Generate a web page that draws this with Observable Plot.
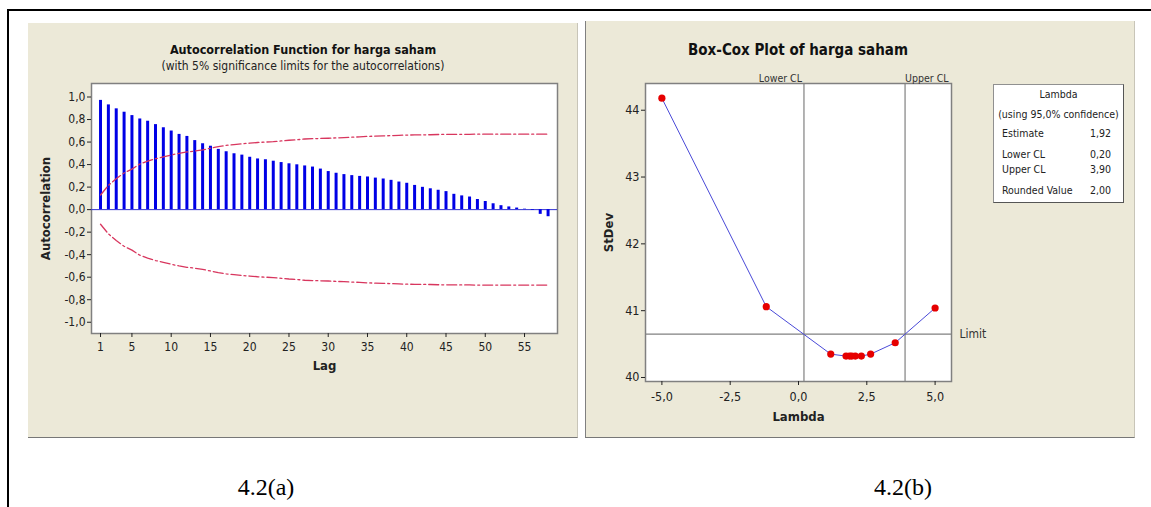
<!DOCTYPE html>
<html>
<head>
<meta charset="utf-8">
<script src="https://cdn.jsdelivr.net/npm/d3@7"></script>
<script src="https://cdn.jsdelivr.net/npm/@observablehq/plot@0.6"></script>
<style>
  html, body { margin: 0; padding: 0; background: #fff; }
  #root { position: relative; width: 1151px; height: 507px; overflow: hidden; background: #fff;
          font-family: "DejaVu Sans Condensed", "Liberation Sans", sans-serif; }
  .abs { position: absolute; white-space: nowrap; }
  .panel { position: absolute; background: #ECE9D8; box-sizing: border-box; }
  .plot { position: absolute; }
  .plot svg { overflow: visible; }
  .plot g[aria-label="x-axis label"] text, .plot g[aria-label="y-axis label"] text { font-weight: bold; font-size: 13px; }
</style>
</head>
<body>
<div id="root"></div>
<script>
// ---------------- data ----------------
const lags = [1,2,3,4,5,6,7,8,9,10,11,12,13,14,15,16,17,18,19,20,21,22,23,24,25,26,27,28,29,30,
  31,32,33,34,35,36,37,38,39,40,41,42,43,44,45,46,47,48,49,50,51,52,53,54,55,56,57,58];
const acfValues = [0.97,0.93,0.895,0.865,0.835,0.805,0.785,0.755,0.727,0.698,
  0.668,0.65,0.613,0.585,0.563,0.535,0.514,0.496,0.484,0.465,
  0.45,0.443,0.43,0.418,0.407,0.398,0.388,0.378,0.36,0.338,
  0.323,0.311,0.302,0.295,0.29,0.28,0.272,0.26,0.245,0.234,
  0.215,0.198,0.185,0.172,0.16,0.136,0.122,0.112,0.09,0.072,
  0.052,0.035,0.024,0.014,0.004,-0.006,-0.042,-0.063];
const upperLimit = [0.13,0.215,0.275,0.325,0.36,0.405,0.43,0.452,0.468,0.485,
  0.5,0.512,0.52,0.53,0.545,0.56,0.57,0.578,0.585,0.59,
  0.596,0.6,0.603,0.61,0.616,0.62,0.627,0.63,0.632,0.634,
  0.637,0.64,0.643,0.646,0.65,0.653,0.655,0.657,0.66,0.662,
  0.663,0.664,0.665,0.667,0.668,0.668,0.669,0.669,0.67,0.67,
  0.67,0.67,0.67,0.67,0.67,0.67,0.67,0.67];
const lowerLimit = upperLimit.map(v => -v);
const acfXTicks = [1,5,10,15,20,25,30,35,40,45,50,55];
const acfYTicks = [-1,-0.8,-0.6,-0.4,-0.2,0,0.2,0.4,0.6,0.8,1];

const lambdas = [-5,-1.18,1.18,1.74,1.87,1.95,2.08,2.30,2.64,3.54,5];
const stdevs  = [44.18,41.06,40.35,40.32,40.32,40.32,40.32,40.32,40.35,40.52,41.04];
const clLines = [{lambda: 0.20, label: "Lower CL", anchor: "end"}, {lambda: 3.90, label: "Upper CL", anchor: "start"}];
const limitValue = 40.65;
const bcXTicks = [-5,-2.5,0,2.5,5];
const bcYTicks = [40,41,42,43,44];
const legendRows = [["Estimate","1,92"],["Lower CL","0,20"],["Upper CL","3,90"],["Rounded Value","2,00"]];

// ---------------- helpers ----------------
const root = document.getElementById("root");
function el(tag, cls, css, text) {
  const e = document.createElement(tag);
  if (cls) e.className = cls;
  Object.assign(e.style, css);
  if (text != null) e.textContent = text;
  root.appendChild(e);
  return e;
}
const comma = f => d => d3.format(f)(d).replace("\u2212", "-").replace(".", ",");
const FONT = '"DejaVu Sans Condensed", "Liberation Sans", sans-serif';

// outer frame lines
el("div", "abs", {left: "7px", top: "9px", width: "1160px", height: "2px", background: "#000"});
el("div", "abs", {left: "7px", top: "9px", width: "2px", height: "520px", background: "#000"});

// ---------------- panel A: ACF ----------------
el("div", "panel", {left: "28px", top: "23px", width: "550px", height: "415px",
  borderBottom: "1px solid #777", borderRight: "1px solid #c8c5b8"});
el("div", "abs", {left: "28px", width: "550px", top: "42px", textAlign: "center",
  fontFamily: FONT, fontWeight: "bold", fontSize: "12.5px", color: "#111"}, "Autocorrelation Function for harga saham");
el("div", "abs", {left: "28px", width: "550px", top: "59px", textAlign: "center",
  fontFamily: FONT, fontSize: "12px", color: "#222"}, "(with 5% significance limits for the autocorrelations)");

const acfData = lags.map((l, i) => ({lag: l, r: acfValues[i], up: upperLimit[i], lo: lowerLimit[i]}));

const plotA = Plot.plot({
  width: 550, height: 415,
  marginLeft: 63, marginRight: 21, marginTop: 60, marginBottom: 105,
  style: {background: "transparent", fontFamily: FONT, fontSize: "12px", color: "#222", overflow: "visible"},
  x: {domain: [-0.15, 59.2]},
  y: {domain: [-1.1, 1.12]},
  marks: [
    Plot.frame({fill: "white", stroke: "#808080", strokeWidth: 1.5}),
    Plot.ruleY([0], {stroke: "#3030d0", strokeWidth: 1}),
    Plot.ruleX(acfData, {x: "lag", y1: 0, y2: "r", stroke: "#0000e6", strokeWidth: 3}),
    Plot.line(acfData, {x: "lag", y: "up", stroke: "#d8365e", strokeWidth: 1.3, strokeDasharray: "10,3,2,3"}),
    Plot.line(acfData, {x: "lag", y: "lo", stroke: "#d8365e", strokeWidth: 1.3, strokeDasharray: "10,3,2,3"}),
    Plot.axisX({ticks: acfXTicks, tickSize: 4, tickPadding: 5, tickFormat: d => String(d),
      label: "Lag", labelAnchor: "center", labelOffset: 36, labelArrow: "none"}),
    Plot.axisY({ticks: acfYTicks, tickSize: 4, tickPadding: 2, tickFormat: comma(".1f"),
      label: "Autocorrelation", labelAnchor: "center", labelOffset: 51, labelArrow: "none"})
  ]
});
const wA = el("div", "plot", {left: "28px", top: "23px"});
wA.appendChild(plotA);

// ---------------- panel B: Box-Cox ----------------
el("div", "panel", {left: "585px", top: "21px", width: "550px", height: "417px",
  borderLeft: "1px solid #808080", borderBottom: "1px solid #777", borderRight: "1px solid #c8c5b8"});
el("div", "abs", {left: "645px", width: "306px", top: "41px", textAlign: "center",
  fontFamily: FONT, fontWeight: "bold", fontSize: "15px", color: "#111"}, "Box-Cox Plot of harga saham");

const bcData = lambdas.map((l, i) => ({lambda: l, sd: stdevs[i]}));

const plotB = Plot.plot({
  width: 550, height: 417,
  marginLeft: 60, marginRight: 184, marginTop: 62, marginBottom: 57,
  style: {background: "transparent", fontFamily: FONT, fontSize: "12.5px", color: "#222", overflow: "visible"},
  x: {domain: [-5.6, 5.6]},
  y: {domain: [39.94, 44.4]},
  marks: [
    Plot.frame({fill: "white", stroke: "#808080", strokeWidth: 1.5}),
    Plot.ruleX(clLines, {x: "lambda", stroke: "#808080", strokeWidth: 1.2}),
    Plot.ruleY([limitValue], {stroke: "#808080", strokeWidth: 1.2}),
    Plot.text(clLines.filter(d => d.anchor === "end"), {x: "lambda", text: "label", frameAnchor: "top", textAnchor: "end", dx: -2, dy: -9, fontSize: 10.5, fill: "#333"}),
    Plot.text(clLines.filter(d => d.anchor === "start"), {x: "lambda", text: "label", frameAnchor: "top", textAnchor: "start", dx: 0, dy: -9, fontSize: 10.5, fill: "#333"}),
    Plot.text([{v: limitValue, label: "Limit"}], {y: "v", text: "label", frameAnchor: "right", textAnchor: "start", dx: 8, fontSize: 12, fill: "#333"}),
    Plot.line(bcData, {x: "lambda", y: "sd", stroke: "#4a4ad8", strokeWidth: 1}),
    Plot.dot(bcData, {x: "lambda", y: "sd", r: 3.6, fill: "#e60000", stroke: "none"}),
    Plot.axisX({ticks: bcXTicks, tickSize: 4, tickPadding: 7, tickFormat: comma(".1f"),
      label: "Lambda", labelAnchor: "center", labelOffset: 39, labelArrow: "none"}),
    Plot.axisY({ticks: bcYTicks, tickSize: 4, tickPadding: 2, tickFormat: d => String(d),
      label: "StDev", labelAnchor: "center", labelOffset: 42, labelArrow: "none"})
  ]
});
const wB = el("div", "plot", {left: "585px", top: "21px"});
wB.appendChild(plotB);

// legend box
el("div", "abs", {left: "993px", top: "84px", width: "131px", height: "119px", background: "#fff",
  border: "1px solid #909090", borderRightColor: "#555", borderBottomColor: "#555", boxSizing: "border-box"});
const lg = {fontFamily: FONT, fontSize: "10.5px", color: "#222"};
el("div", "abs", Object.assign({left: "993px", width: "131px", top: "88px", textAlign: "center"}, lg), "Lambda");
el("div", "abs", Object.assign({left: "993px", width: "131px", top: "108px", textAlign: "center"}, lg), "(using 95,0% confidence)");
const rowY = [127, 148, 163, 184];
legendRows.forEach((r, i) => {
  el("div", "abs", Object.assign({left: "1002px", top: rowY[i] + "px"}, lg), r[0]);
  el("div", "abs", Object.assign({left: "1060px", width: "51px", textAlign: "right", top: rowY[i] + "px"}, lg), r[1]);
});

// captions
el("div", "abs", {left: "166px", width: "200px", top: "474px", textAlign: "center",
  fontFamily: '"Liberation Serif", serif', fontSize: "24px", color: "#000"}, "4.2(a)");
el("div", "abs", {left: "803px", width: "200px", top: "474px", textAlign: "center",
  fontFamily: '"Liberation Serif", serif', fontSize: "24px", color: "#000"}, "4.2(b)");
</script>
</body>
</html>
